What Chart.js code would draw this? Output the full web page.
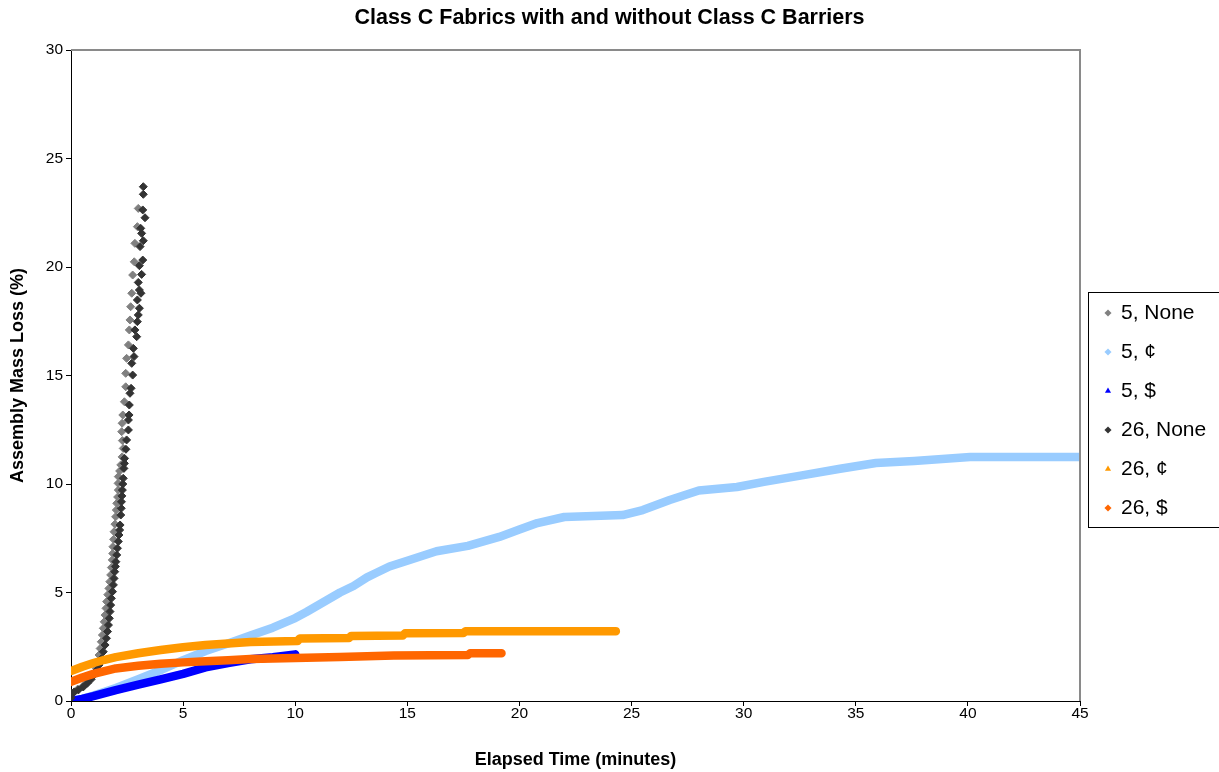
<!DOCTYPE html>
<html>
<head>
<meta charset="utf-8">
<title>Class C Fabrics with and without Class C Barriers</title>
<script src="https://cdn.jsdelivr.net/npm/chart.js@4.4.1/dist/chart.umd.min.js"></script>
<style>
  html, body { margin: 0; padding: 0; background: #fff; }
  #wrap { width: 1219px; height: 772px; }
</style>
</head>
<body>
<div id="wrap"><canvas id="chart" width="1219" height="772"></canvas></div>
<script>
// ---- Data: elapsed time (minutes) and assembly mass loss (%) per test ----
const seriesNames = ['5, None', '5, \u00a2', '5, $', '26, None', '26, \u00a2', '26, $'];

const t5None = [0.00,0.13,0.30,0.50,0.70,0.88,1.00,1.13,1.19,1.25,1.30,1.35,1.40,1.44,1.48,1.52,1.56,1.59,1.64,1.69,1.73,1.77,1.80,1.84,1.86,1.87,1.90,1.92,1.96,1.99,2.02,2.04,2.08,2.11,2.10,2.11,2.17,2.22,2.28,2.33,2.29,2.26,2.28,2.31,2.38,2.44,2.44,2.48,2.56,2.60,2.63,2.66,2.71,2.75,2.82,2.85,2.96,3.00];
const m5None = [0.10,0.41,0.55,0.66,0.85,1.06,1.25,1.51,1.82,2.12,2.42,2.73,3.04,3.35,3.65,3.96,4.27,4.58,4.90,5.19,5.50,5.81,6.15,6.50,6.80,7.11,7.45,7.80,8.15,8.49,8.80,9.11,9.40,9.72,10.03,10.34,10.60,10.88,11.25,11.64,12.00,12.41,12.80,13.18,13.79,14.48,15.10,15.79,16.41,17.10,17.56,18.17,18.79,19.63,20.24,21.09,21.86,22.70];

const t5Cent = [0,0.5,1,2,3,4,5,6,7,8,9,10,10.5,11,11.5,12,12.6,13.2,13.6,14.2,15.1,16.3,17.7,19.1,20,20.8,22,24.6,25.5,26.7,28,29.7,30.9,32.6,34.3,35.9,37.6,40.1,45];
const m5Cent = [0,0.1,0.25,0.6,1.0,1.42,1.88,2.3,2.65,3.02,3.38,3.82,4.1,4.4,4.7,5.0,5.3,5.7,5.9,6.2,6.5,6.9,7.15,7.56,7.9,8.2,8.48,8.57,8.8,9.26,9.7,9.86,10.1,10.4,10.7,10.97,11.06,11.24,11.24];

const t5Dollar = [0,0.5,1,2,3,4,5,6,7,8,9,10];
const m5Dollar = [0,0.1,0.22,0.5,0.75,1.0,1.25,1.55,1.75,1.92,2.02,2.15];

const t26None = [0.00,0.03,0.15,0.33,0.55,0.73,0.90,1.03,1.15,1.25,1.35,1.44,1.52,1.58,1.63,1.67,1.71,1.74,1.77,1.80,1.85,1.89,1.92,1.95,1.98,2.00,2.04,2.07,2.11,2.14,2.17,2.19,2.22,2.24,2.25,2.27,2.29,2.31,2.33,2.36,2.38,2.39,2.45,2.48,2.56,2.56,2.59,2.60,2.63,2.68,2.75,2.71,2.81,2.78,2.93,2.85,2.96,3.00,3.05,2.96,3.12,3.05,3.00,3.15,3.05,3.20,3.08,3.225,3.15,3.11,3.30,3.20,3.225,3.225];
const m26None = [0.15,0.35,0.42,0.51,0.65,0.82,1.00,1.20,1.42,1.66,1.95,2.27,2.58,2.89,3.20,3.50,3.81,4.12,4.42,4.73,5.04,5.35,5.65,5.96,6.20,6.42,6.73,7.04,7.35,7.65,7.88,8.11,8.57,8.88,9.18,9.45,9.72,10.00,10.26,10.72,10.95,11.18,11.60,12.03,12.49,12.95,13.18,13.64,14.18,14.41,15.02,15.56,15.87,16.25,16.79,17.10,17.48,17.79,18.10,18.48,18.79,18.94,19.29,19.66,20.06,20.32,20.94,21.21,21.55,21.78,22.27,22.63,23.35,23.70];

const t26Cent = [0,0.5,1,1.5,2,3,4,5,6,7,8,10.1,10.2,12.4,12.5,14.8,14.9,17.5,17.6,24.3];
const m26Cent = [1.38,1.58,1.75,1.9,2.02,2.2,2.35,2.48,2.58,2.65,2.72,2.76,2.88,2.9,3.0,3.02,3.12,3.13,3.22,3.22];

const t26Dollar = [0,0.5,1,1.5,2,3,4,5,6,7,8,10,12,14.4,17.7,17.8,19.2];
const m26Dollar = [0.88,1.08,1.25,1.38,1.5,1.62,1.72,1.78,1.83,1.88,1.93,1.98,2.03,2.1,2.12,2.2,2.2];

const xTicks = [0, 5, 10, 15, 20, 25, 30, 35, 40, 45];
const yTicks = [0, 5, 10, 15, 20, 25, 30];

// ---- Helpers ----
const pairs = (ts, ms) => ts.map((t, i) => ({ x: t, y: ms[i] }));
const FONT = "'Liberation Sans', Arial, Helvetica, sans-serif";
Chart.defaults.font.family = FONT;
Chart.defaults.color = '#000';

const colors = ['#808080', '#99CCFF', '#0000FF', '#333333', '#FF9900', '#FF6600'];
const styles = ['rectRot', 'rectRot', 'triangle', 'rectRot', 'triangle', 'rectRot'];

// Scattered markers for the fast-burning runs
function markerSet(i, data) {
  return {
    label: seriesNames[i], data,
    backgroundColor: colors[i], borderColor: colors[i],
    pointStyle: styles[i], pointRadius: 4, pointBorderWidth: 1,
    showLine: false, order: 6 - i
  };
}
// Densely sampled runs read as a continuous marker band
function bandSet(i, data) {
  return {
    label: seriesNames[i], data,
    backgroundColor: colors[i], borderColor: colors[i],
    pointStyle: styles[i], pointRadius: 0, borderWidth: 8.5,
    borderCapStyle: 'round', borderJoinStyle: 'round',
    showLine: true, tension: 0, order: 6 - i
  };
}

const datasets = [
  markerSet(0, pairs(t5None, m5None)),
  bandSet(1, pairs(t5Cent, m5Cent)),
  bandSet(2, pairs(t5Dollar, m5Dollar)),
  markerSet(3, pairs(t26None, m26None)),
  bandSet(4, pairs(t26Cent, m26Cent)),
  bandSet(5, pairs(t26Dollar, m26Dollar))
];

const LEGEND_W = 139;

// Fixed legend width and placement, plus a frame around it
const legendPlacement = {
  id: 'legendPlacement',
  beforeLayout(chart) {
    const lg = chart.legend;
    if (lg && !lg._fixedWidth) {
      const fit = lg.fit.bind(lg);
      lg.fit = function () { fit(); this.width = LEGEND_W; };
      lg._fixedWidth = true;
    }
  },
  afterLayout(chart) {
    const lg = chart.legend;
    if (!lg) return;
    lg.left += 7.5; lg.right += 7.5;
    lg.top = 284.5; lg.bottom = 284.5 + 420;
  },
  afterDraw(chart) {
    const lg = chart.legend;
    if (!lg) return;
    const ctx = chart.ctx;
    ctx.save();
    ctx.strokeStyle = '#000';
    ctx.lineWidth = 1;
    ctx.strokeRect(Math.round(lg.left) + 0.5, Math.round(lg.top + 7.5) + 0.5, 200, 235);
    ctx.restore();
  }
};

// Grey frame on the top and right sides of the plot area
const plotFrame = {
  id: 'plotFrame',
  afterDatasetsDraw(chart) {
    const { ctx, chartArea: a } = chart;
    ctx.save();
    ctx.strokeStyle = '#8a8a8a';
    ctx.lineWidth = 2;
    ctx.beginPath();
    ctx.moveTo(a.left, a.top);
    ctx.lineTo(a.right, a.top);
    ctx.lineTo(a.right, a.bottom);
    ctx.stroke();
    ctx.restore();
  }
};

new Chart(document.getElementById('chart'), {
  type: 'scatter',
  data: { datasets },
  options: {
    responsive: false,
    devicePixelRatio: 1,
    animation: false,
    layout: { padding: { left: 0, right: 0, top: 0, bottom: 0 } },
    plugins: {
      tooltip: { enabled: false },
      title: {
        display: true,
        text: 'Class C Fabrics with and without Class C Barriers',
        color: '#000',
        font: { family: FONT, size: 21.5, weight: 'bold' },
        padding: { top: 5.1, bottom: 19.1 }
      },
      legend: {
        position: 'right',
        align: 'start',
        labels: {
          usePointStyle: true,
          boxWidth: 5,
          boxHeight: 5,
          padding: 18,
          color: '#000',
          font: { family: FONT, size: 21 },
          sort: (a, b) => a.datasetIndex - b.datasetIndex,
          generateLabels(chart) {
            return datasets.map((ds, i) => ({
              text: seriesNames[i],
              fillStyle: colors[i],
              strokeStyle: colors[i],
              lineWidth: 0,
              pointStyle: styles[i],
              hidden: false,
              datasetIndex: i
            }));
          }
        }
      }
    },
    scales: {
      x: {
        type: 'linear',
        min: 0, max: 45,
        afterFit(s) { s.height = 71; },
        afterBuildTicks(s) { s.ticks = xTicks.map(v => ({ value: v })); },
        ticks: { font: { family: FONT, size: 15.5, lineHeight: 1 }, padding: 0, color: '#000', maxRotation: 0 },
        grid: { drawOnChartArea: false, drawTicks: true, tickLength: 5, color: '#000' },
        border: { display: true, color: '#000', width: 1 },
        title: {
          display: true,
          text: 'Elapsed Time (minutes)',
          color: '#000',
          font: { family: FONT, size: 18, weight: 'bold' },
          padding: { top: 0, bottom: 1.2 }
        }
      },
      y: {
        type: 'linear',
        min: 0, max: 30,
        afterFit(s) { s.width = 71; },
        afterBuildTicks(s) { s.ticks = yTicks.map(v => ({ value: v })); },
        ticks: { font: { family: FONT, size: 15.5 }, padding: 3, color: '#000' },
        grid: { drawOnChartArea: false, drawTicks: true, tickLength: 5, color: '#000' },
        border: { display: true, color: '#000', width: 1 },
        title: {
          display: true,
          text: 'Assembly Mass Loss (%)',
          color: '#000',
          font: { family: FONT, size: 18, weight: 'bold' },
          padding: { top: 7.2, bottom: 0 }
        }
      }
    }
  },
  plugins: [legendPlacement, plotFrame]
});
</script>
</body>
</html>
